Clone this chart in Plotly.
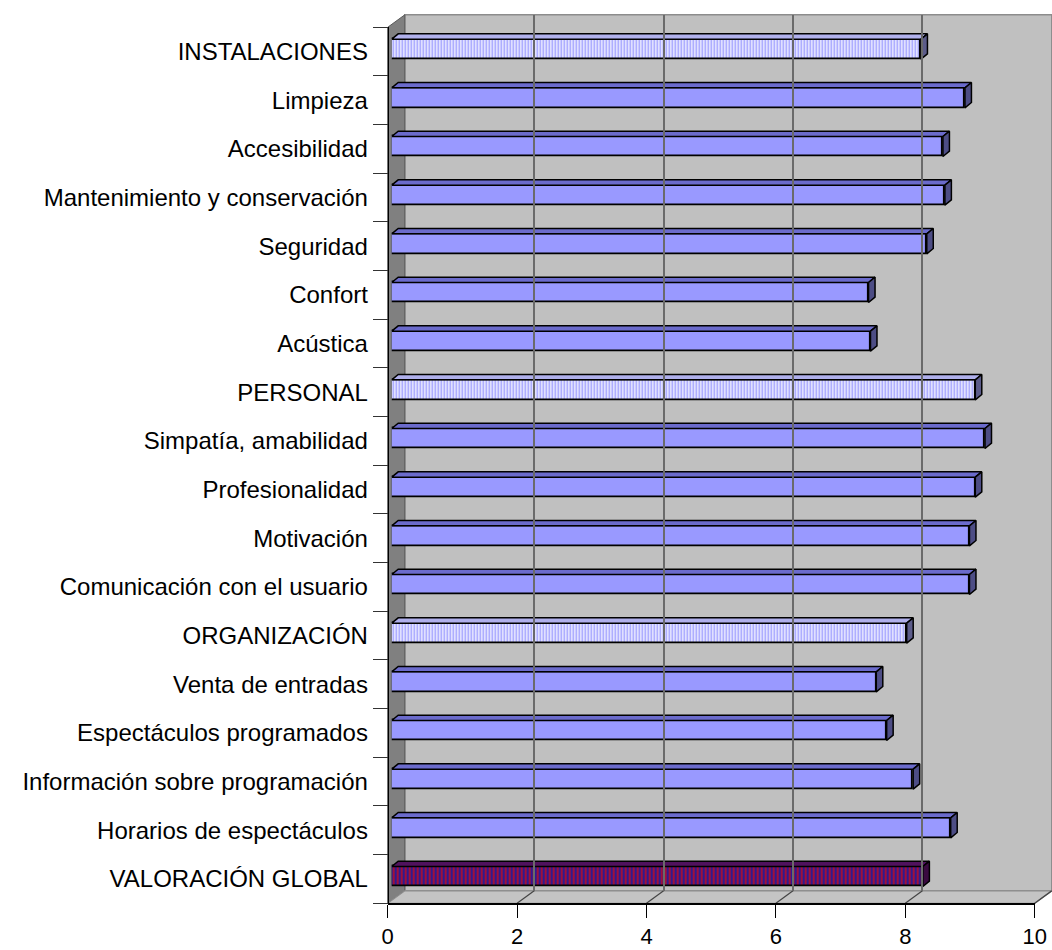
import plotly.graph_objects as go

# ---------------- data ----------------
categories = [
    "INSTALACIONES", "Limpieza", "Accesibilidad", "Mantenimiento y conservación",
    "Seguridad", "Confort", "Acústica", "PERSONAL", "Simpatía, amabilidad",
    "Profesionalidad", "Motivación", "Comunicación con el usuario", "ORGANIZACIÓN",
    "Venta de entradas", "Espectáculos programados", "Información sobre programación",
    "Horarios de espectáculos", "VALORACIÓN GLOBAL",
]
values = [8.18, 8.86, 8.52, 8.55, 8.27, 7.37, 7.40, 9.02, 9.17, 9.02, 8.93,
          8.93, 7.96, 7.49, 7.65, 8.06, 8.64, 8.21]
# bar kind: 0 = item, 1 = section header, 2 = global
kinds = [1, 0, 0, 0, 0, 0, 0, 1, 0, 0, 0, 0, 1, 0, 0, 0, 0, 2]
x_ticks = [0, 2, 4, 6, 8, 10]

# ---------------- styling ----------------
W, H = 1052, 950
FONT = "Liberation Sans, Arial, sans-serif"
face = {0: "#9999FF", 1: "#E8E8FF", 2: "#2E1A90"}
stripe = {0: "#9999FF", 1: "#9999FF", 2: "#A0103A"}
pshape = {0: "", 1: "|", 2: "|"}
psize = {0: 4, 1: 3, 2: 4}
psolid = {0: 0.3, 1: 0.4, 2: 0.5}
topc = {0: "#6B6BCC", 1: "#B0B0EC", 2: "#50125E"}
sidec = {0: "#4D4D85", 1: "#5C5C8A", 2: "#3A0A40"}

# frame geometry (pixels)
front_x0, back_x0, bar_x0 = 387.7, 404.8, 391.7
pxu = 64.7                     # pixels per unit
front_top, front_bot = 27.3, 903.3
depth_y = 12.5
back_top, back_bot = front_top - depth_y, front_bot - depth_y

def fx(p):
    return p / W

def fy(p):
    return 1 - p / H

n = len(categories)
idx = list(range(n))
band = (front_bot - front_top) / n
bar_w = 20 / band
bar_off = -2.5 / band
dx = 6.5 / pxu
dy = 5.3 / band

fig = go.Figure()

# bars (front faces), one trace per kind
for kind in (0, 1, 2):
    xs = [v for v, k in zip(values, kinds) if k == kind]
    ys = [i + bar_off for i, k in zip(idx, kinds) if k == kind]
    pat = dict(shape=pshape[kind], fgcolor=stripe[kind], bgcolor=face[kind],
               size=psize[kind], solidity=psolid[kind], fillmode="replace",
               fgopacity=1)
    fig.add_trace(go.Bar(
        x=xs, y=ys, orientation="h", width=bar_w,
        marker=dict(color=face[kind], line=dict(color="black", width=1.8),
                    pattern=pat),
        xaxis="x", yaxis="y", showlegend=False, hoverinfo="x",
    ))

# 3-D top and side faces, computed from the values
for kind in (0, 1, 2):
    tx, ty, sx, sy = [], [], [], []
    for i, v, k in zip(idx, values, kinds):
        if k != kind:
            continue
        yt = i + bar_off - bar_w / 2
        yb = i + bar_off + bar_w / 2
        tx += [0, v, v + dx, dx, 0, None]
        ty += [yt, yt, yt - dy, yt - dy, yt, None]
        sx += [v, v + dx, v + dx, v, v, None]
        sy += [yt, yt - dy, yb - dy, yb, yt, None]
    for xs, ys, col in ((tx, ty, topc[kind]), (sx, sy, sidec[kind])):
        fig.add_trace(go.Scatter(
            x=xs, y=ys, mode="lines", fill="toself", fillcolor=col,
            line=dict(color="black", width=1.5), xaxis="x", yaxis="y",
            showlegend=False, hoverinfo="skip",
        ))

# empty traces so that the front axis and the back-wall grid subplots exist
fig.add_trace(go.Scatter(x=[], y=[], xaxis="x2", yaxis="y", showlegend=False,
                         hoverinfo="skip"))
fig.add_trace(go.Scatter(x=[], y=[], xaxis="x3", yaxis="y3", showlegend=False,
                         hoverinfo="skip"))

shapes = []
# back wall
shapes.append(dict(type="rect", xref="paper", yref="paper", layer="below",
                   x0=fx(back_x0), x1=fx(back_x0 + 10 * pxu),
                   y0=fy(back_bot), y1=fy(back_top),
                   fillcolor="#C0C0C0", line=dict(color="#8C8C8C", width=1.5)))
# side wall
shapes.append(dict(type="path", xref="paper", yref="paper", layer="below",
                   path=f"M {fx(front_x0)},{fy(front_top)} L {fx(back_x0)},{fy(back_top)} "
                        f"L {fx(back_x0)},{fy(back_bot)} L {fx(front_x0)},{fy(front_bot)} Z",
                   fillcolor="#808080", line=dict(color="#5A5A5A", width=1)))
# floor
shapes.append(dict(type="path", xref="paper", yref="paper", layer="below",
                   path=f"M {fx(front_x0)},{fy(front_bot)} L {fx(front_x0 + 10 * pxu)},{fy(front_bot)} "
                        f"L {fx(back_x0 + 10 * pxu)},{fy(back_bot)} L {fx(back_x0)},{fy(back_bot)} Z",
                   fillcolor="#C4C4C4", line=dict(color="#8C8C8C", width=1.2)))
# floor grid diagonals
for t in x_ticks[1:]:
    shapes.append(dict(type="line", xref="paper", yref="paper", layer="below",
                       x0=fx(front_x0 + t * pxu), y0=fy(front_bot),
                       x1=fx(back_x0 + t * pxu), y1=fy(back_bot),
                       line=dict(color="#444444", width=1.2)))

fig.update_layout(
    width=W, height=H,
    margin=dict(l=0, r=0, t=0, b=0, autoexpand=False),
    paper_bgcolor="white", plot_bgcolor="rgba(0,0,0,0)",
    font=dict(family=FONT, size=22, color="black"),
    shapes=shapes,
    bargap=0,
    showlegend=False,
    # bars axis (invisible)
    xaxis=dict(domain=[fx(bar_x0), fx(bar_x0 + 10 * pxu)], range=[0, 10],
               anchor="y", showgrid=False, zeroline=False, showline=False,
               showticklabels=False, ticks="", automargin=False),
    yaxis=dict(domain=[fy(front_bot), fy(front_top)], range=[n - 0.5, -0.5],
               anchor="free", position=fx(front_x0),
               tickmode="array", tickvals=idx, ticktext=categories,
               ticks="", showgrid=False, zeroline=False,
               showline=True, linecolor="black", linewidth=1,
               ticklabelstandoff=15, automargin=False,
               minor=dict(tickmode="array", tickvals=[i - 0.5 for i in range(n + 1)],
                          ticks="outside", ticklen=15, tickcolor="#333333",
                          tickwidth=1, showgrid=False),
               tickfont=dict(family=FONT, size=24, color="black")),
    # front axis with labels
    xaxis2=dict(domain=[fx(front_x0), fx(front_x0 + 10 * pxu)], range=[0, 10],
                anchor="y", side="bottom", tickmode="array", tickvals=x_ticks,
                ticks="outside", ticklen=13, tickcolor="black", tickwidth=1,
                showline=True, linecolor="black", linewidth=1.5,
                showgrid=False, zeroline=False, ticklabelstandoff=0,
                automargin=False,
                tickfont=dict(family=FONT, size=22, color="black")),
    # back wall grid
    xaxis3=dict(domain=[fx(back_x0), fx(back_x0 + 10 * pxu)], range=[0, 10],
                anchor="y3", tickmode="array", tickvals=x_ticks,
                showgrid=True, gridcolor="#6A6A6A", gridwidth=1.5,
                showticklabels=False, ticks="", zeroline=False, showline=False,
                automargin=False),
    yaxis3=dict(domain=[fy(back_bot), fy(back_top)], range=[0, 1], anchor="x3",
                showgrid=False, showticklabels=False, ticks="", zeroline=False,
                showline=False, automargin=False),
)

fig.write_html("out.html")
